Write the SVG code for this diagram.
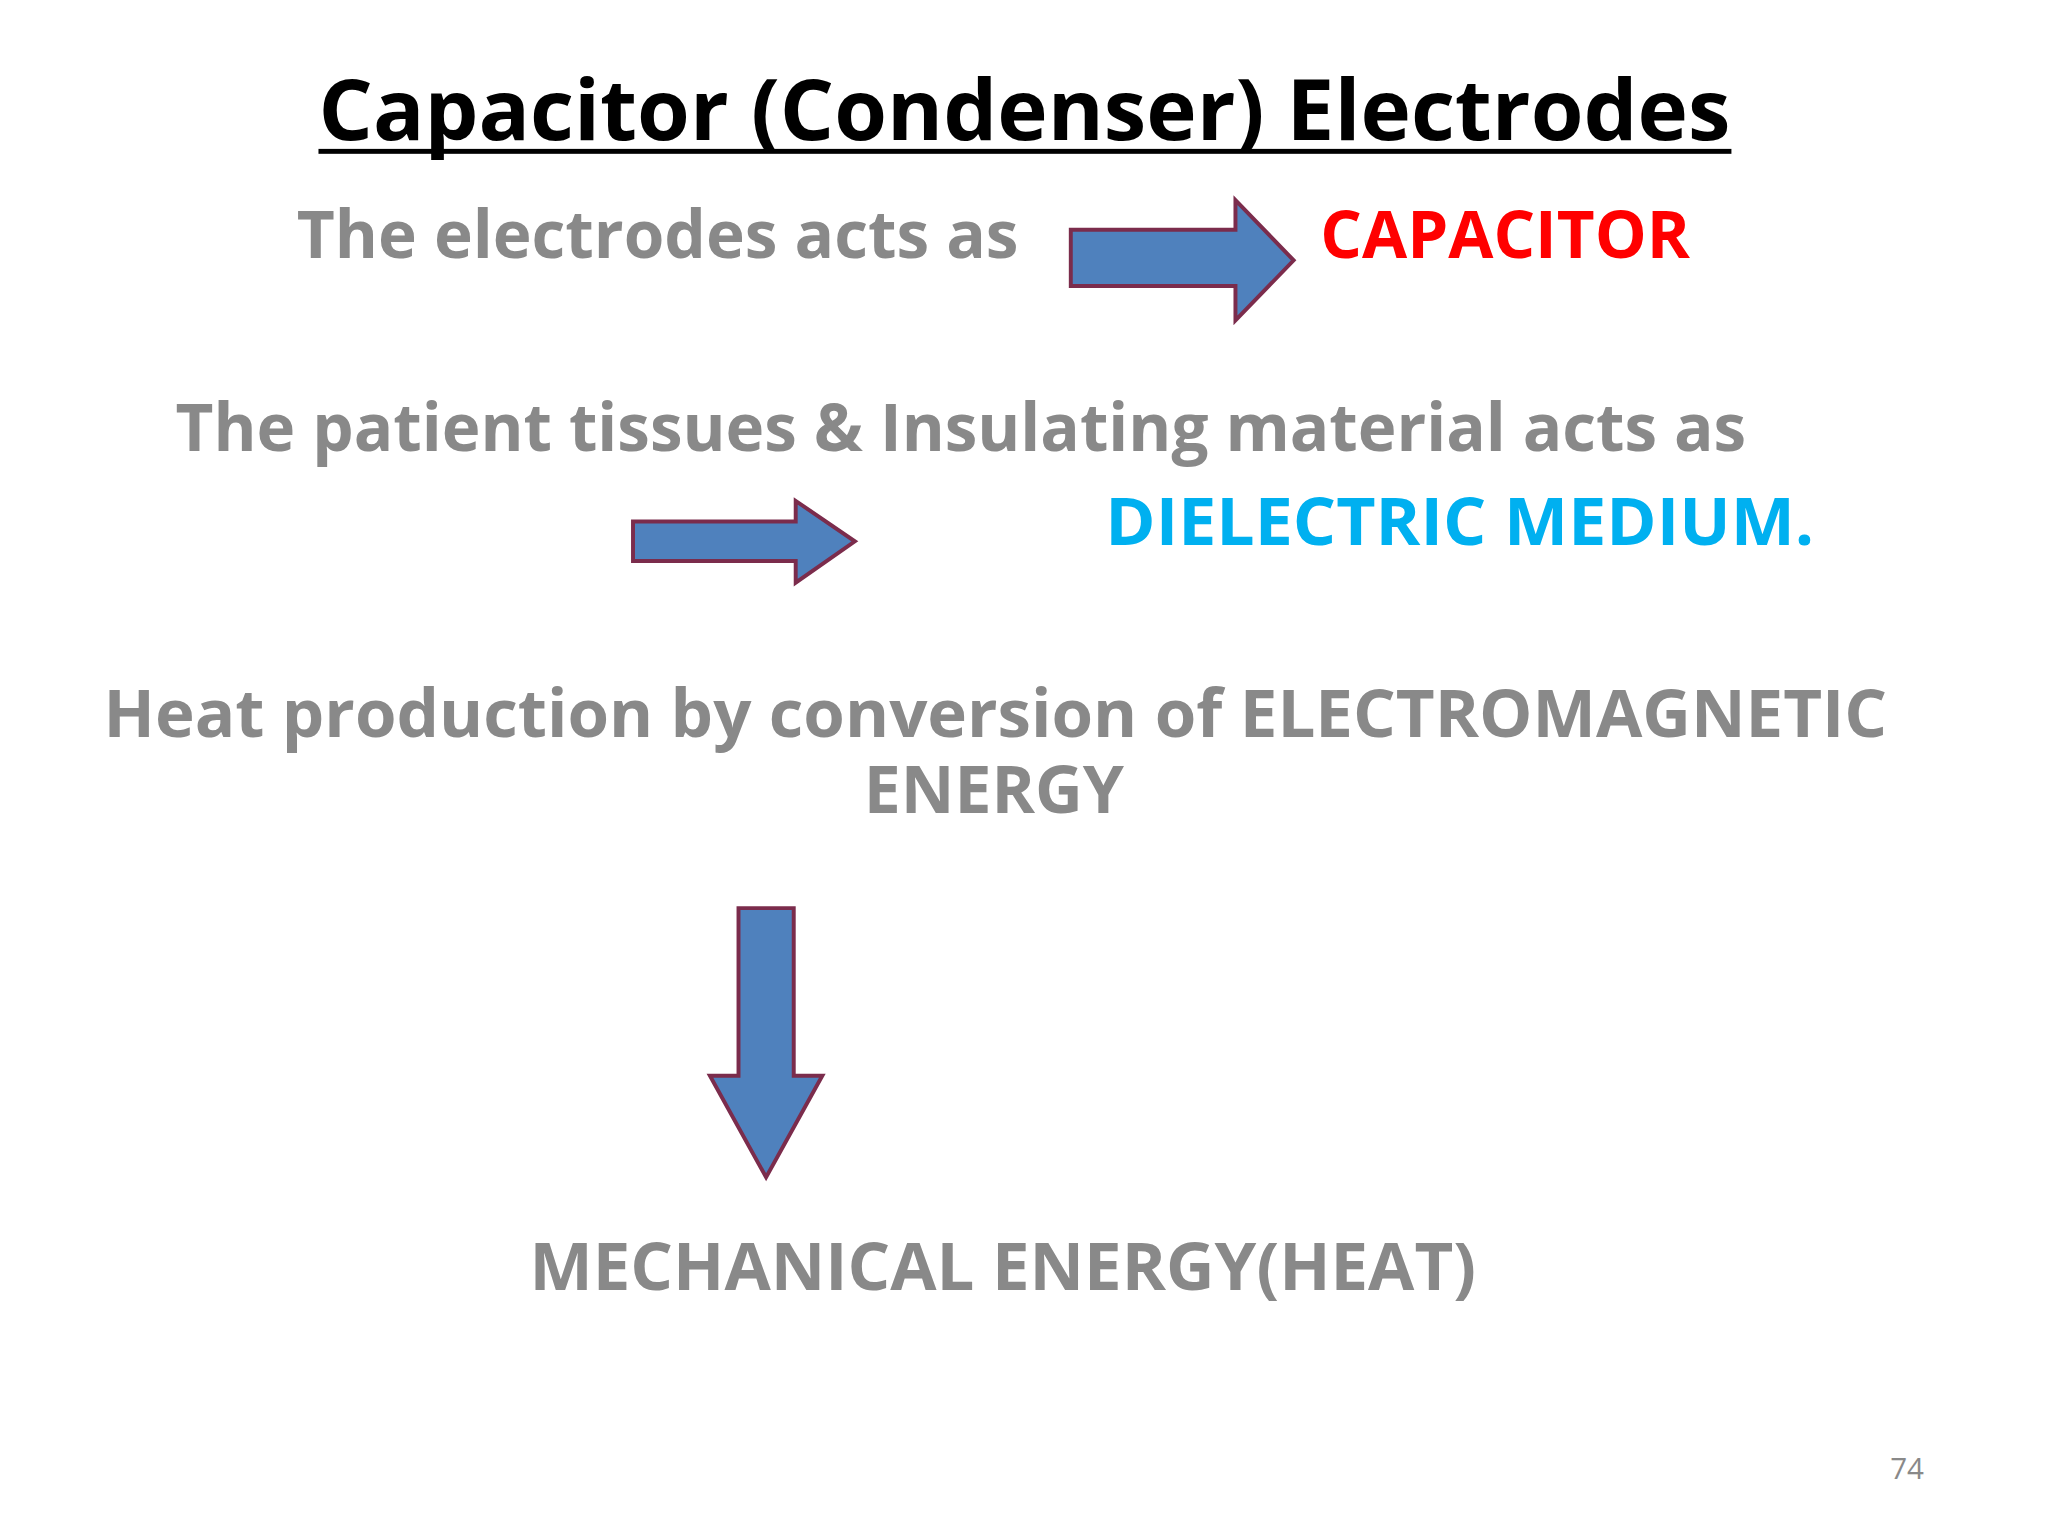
<svg xmlns="http://www.w3.org/2000/svg" width="2048" height="1536" viewBox="0 0 2048 1536">
<style>
text{font-family:"Open Sans","Liberation Sans",sans-serif;font-weight:bold}
.g{fill:#898989;font-size:68px}
.arr{fill:#4F81BD;stroke:#7B2C4C;stroke-width:4;stroke-linejoin:miter}
</style>
<rect width="2048" height="1536" fill="#fff"/>
<g transform="scale(0.986)">
<g id="title">
<text x="323" y="142" font-size="86" fill="#000" textLength="1432" lengthAdjust="spacingAndGlyphs">Capacitor (Condenser) Electrodes</text>
<rect x="323" y="151" width="1433" height="5" fill="#000"/>
</g>
<g id="line1"><text class="g" x="301" y="262" textLength="732" lengthAdjust="spacingAndGlyphs">The electrodes acts as</text></g>
<g id="capacitor"><text x="1339" y="262" font-size="68" fill="#FF0000" textLength="375" lengthAdjust="spacingAndGlyphs">CAPACITOR</text></g>
<g id="line2"><text class="g" x="178" y="457" textLength="1593" lengthAdjust="spacingAndGlyphs">The patient tissues &amp; Insulating material acts as</text></g>
<g id="dielectric"><text x="1121" y="553" font-size="68" fill="#00B0F0" textLength="719" lengthAdjust="spacingAndGlyphs">DIELECTRIC MEDIUM.</text></g>
<g id="line3">
<text class="g" x="105" y="747" font-size="64" textLength="1809" lengthAdjust="spacingAndGlyphs">Heat production by  conversion of ELECTROMAGNETIC</text>
<text class="g" x="876" y="825" font-size="64" textLength="264" lengthAdjust="spacingAndGlyphs">ENERGY</text>
</g>
<g id="mechanical"><text class="g" x="537" y="1308" textLength="960" lengthAdjust="spacingAndGlyphs">MECHANICAL ENERGY(HEAT)</text></g>
<g id="pagenum"><text x="1917" y="1500" font-size="30" fill="#898989" style="font-weight:normal">74</text></g>
<g id="connectors">
<polygon class="arr" points="1086,233 1253,233 1253,203 1312,264 1253,325 1253,290 1086,290"/>
<polygon class="arr" points="642,529 807,529 807,508 867,549 807,591 807,569 642,569"/>
<polygon class="arr" points="749,921 805,921 805,1091 834,1091 777,1194 720,1091 749,1091"/>
</g>
</g>
</svg>
